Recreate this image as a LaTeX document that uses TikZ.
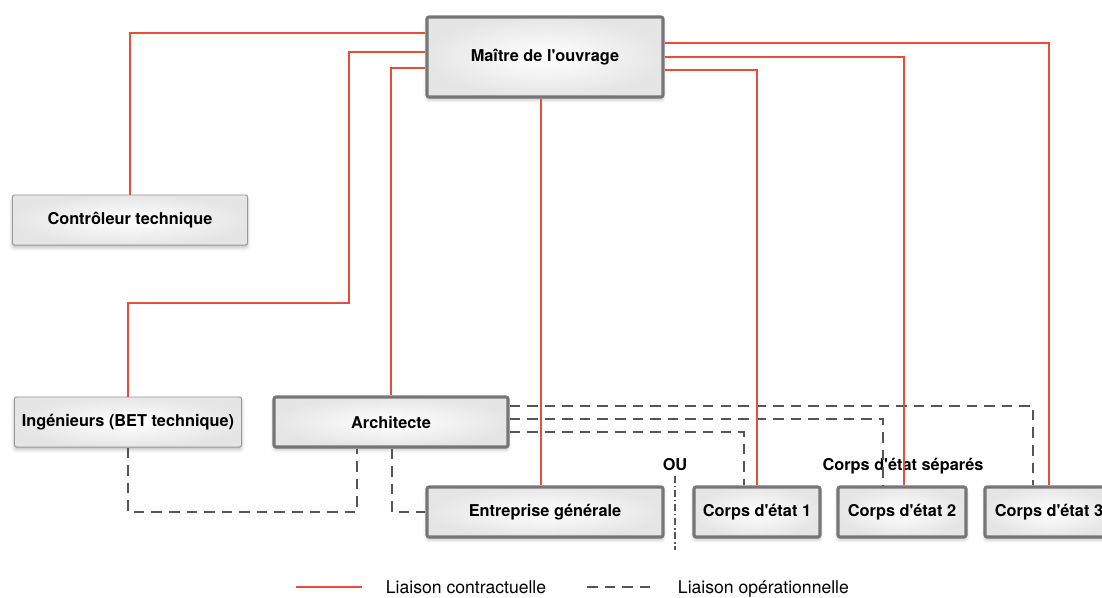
\documentclass[tikz,border=0pt]{standalone}
\usepackage{fontspec}
\setmainfont{TeX Gyre Heros}
\usetikzlibrary{shadows.blur}
\definecolor{rouge}{RGB}{232,77,60}
\definecolor{trait}{RGB}{85,85,85}
\definecolor{bord}{RGB}{118,118,118}
\newcommand{\apos}{\textquotesingle}

\begin{document}
\begin{tikzpicture}[x=0.025cm,y=-0.025cm,
	boite/.style={draw=bord!75, line width=0.7pt, rounded corners=1.5pt,
		inner color=white, outer color=gray!20,
		blur shadow={shadow xshift=0pt, shadow yshift=-2pt, shadow blur radius=2.5pt, shadow opacity=25},
		font=\fontsize{11.6}{14}\selectfont\bfseries, minimum height=1.25cm, inner sep=0pt},
	boitef/.style={boite, draw=bord, line width=2.2pt},
	contrat/.style={rouge, line width=1.3pt},
	oper/.style={trait, line width=1.2pt, dash pattern=on 7.5pt off 5pt},
	titre/.style={font=\fontsize{11.6}{14}\selectfont\bfseries},
	legende/.style={font=\fontsize{12.5}{15}\selectfont, anchor=base west}]
	\useasboundingbox (0,0) rectangle (1102,597);
	%Maitre de l'ouvrage
	\node [boitef, minimum width=5.9cm, minimum height=2cm] (mo) at (545,57) {Maître de l\apos ouvrage};
	%Gauche
	\node [boite, minimum width=5.875cm] (ct) at (130,220) {Contrôleur technique};
	\node [boite, minimum width=5.675cm] (ing) at (128,422) {Ingénieurs (BET technique)};
	\node [boitef, minimum width=5.85cm] (arch) at (391,422) {Architecte};
	%Entreprises
	\node [boitef, minimum width=5.9cm] (eg) at (545,512) {Entreprise générale};
	\node [boitef, minimum width=3.15cm] (c1) at (757,512) {Corps d\apos état 1};
	\node [boitef, minimum width=3.2cm] (c2) at (902,512) {Corps d\apos état 2};
	\node [boitef, minimum width=3.2cm] (c3) at (1049,512) {Corps d\apos état 3};
	%Textes
	\node [titre] (ou) at (675,465) {OU};
	\node [titre] (sep) at (903,466) {Corps d\apos état séparés};
	\coordinate (oufin) at (675,550);
	\draw [trait, line width=0.8pt, dash pattern=on 5pt off 2pt on 1pt off 2pt] (ou.south) -- (oufin);
	%Liaisons operationnelles
	\draw [oper] (ing.south) |- (357,512) -- (arch.south -| 357,0);
	\draw [oper] (arch.south -| 392,0) |- (eg.west);
	\draw [oper] (arch.east |- 0,406) -| (c3.north -| 1033,0);
	\draw [oper] (arch.east |- 0,419) -| (c2.north -| 883,0);
	\draw [oper] (arch.east |- 0,432) -| (c1.north -| 744,0);
	%Liaisons contractuelles
	\draw [contrat] (mo.west |- 0,33) -| (ct.north);
	\draw [contrat] (mo.west |- 0,52) -| (349,303) -| (ing.north);
	\draw [contrat] (mo.west |- 0,68) -| (arch.north);
	\draw [contrat] (mo.south -| 541,0) -- (eg.north -| 541,0);
	\draw [contrat] (mo.east |- 0,70) -| (c1.north);
	\draw [contrat] (mo.east |- 0,57) -| (c2.north -| 904,0);
	\draw [contrat] (mo.east |- 0,43) -| (c3.north);
	%Legende
	\node [legende] (lc) at (381,593) {Liaison contractuelle};
	\node [legende] (lo) at (673,593) {Liaison opérationnelle};
	\coordinate (lca) at (296,587);
	\coordinate (loa) at (587,587);
	\draw [contrat] (lca) -- ++(66,0);
	\draw [oper] (loa) -- ++(64,0);
\end{tikzpicture}
\end{document}
